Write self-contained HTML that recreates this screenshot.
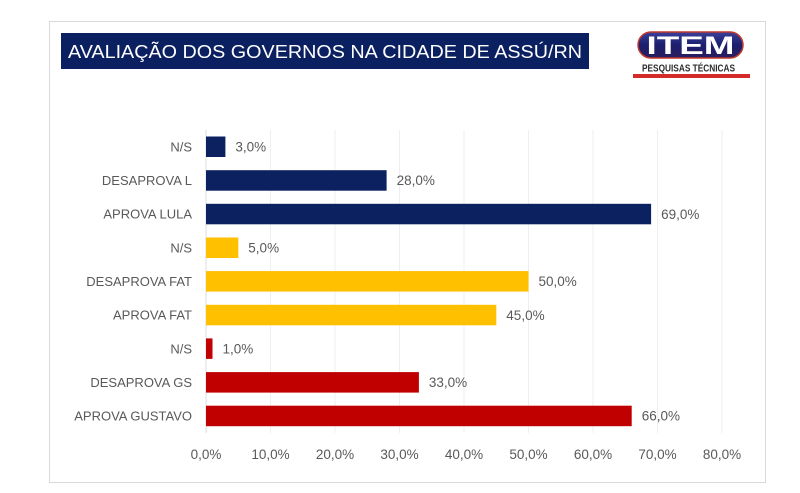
<!DOCTYPE html>
<html>
<head>
<meta charset="utf-8">
<style>
html,body{margin:0;padding:0;background:#fff;}
svg{display:block;}
text{font-family:"Liberation Sans",sans-serif;}
</style>
</head>
<body>
<svg width="800" height="493" viewBox="0 0 800 493" xmlns="http://www.w3.org/2000/svg">
  <defs>
    <linearGradient id="lg" x1="0" y1="0" x2="0" y2="1">
      <stop offset="0" stop-color="#3a3f9a"/>
      <stop offset="0.5" stop-color="#1c1f6e"/>
      <stop offset="1" stop-color="#2a1d5e"/>
    </linearGradient>
  </defs>
  <rect x="0" y="0" width="800" height="493" fill="#fff"/>
  <!-- card -->
  <rect x="49.5" y="21.5" width="716" height="461" fill="#fff" stroke="#d9d9d9" stroke-width="1"/>

  <!-- title -->
  <rect x="61" y="33" width="528" height="36" fill="#0b2060"/>
  <text x="68" y="58" font-size="18" fill="#fff" textLength="514" lengthAdjust="spacingAndGlyphs">AVALIAÇÃO DOS GOVERNOS NA CIDADE DE ASSÚ/RN</text>

  <!-- logo -->
  <rect x="638" y="32" width="105" height="26" rx="13" ry="13" fill="url(#lg)" stroke="#c0392b" stroke-width="1.5"/>
  <text x="690.5" y="54" font-size="25" font-weight="bold" fill="#fff" text-anchor="middle" textLength="88" lengthAdjust="spacingAndGlyphs">ITEM</text>
  <text x="688.5" y="71.5" font-size="10" font-weight="bold" fill="#2b2b2b" text-anchor="middle" textLength="93" lengthAdjust="spacingAndGlyphs">PESQUISAS TÉCNICAS</text>
  <rect x="633" y="74" width="117" height="4" fill="#d42a2a"/>

  <!-- gridlines -->
  <g stroke="#efefef" stroke-width="1">
    <line x1="270.5" y1="130" x2="270.5" y2="433"/>
    <line x1="335" y1="130" x2="335" y2="433"/>
    <line x1="399.5" y1="130" x2="399.5" y2="433"/>
    <line x1="464" y1="130" x2="464" y2="433"/>
    <line x1="528.5" y1="130" x2="528.5" y2="433"/>
    <line x1="593" y1="130" x2="593" y2="433"/>
    <line x1="657.5" y1="130" x2="657.5" y2="433"/>
    <line x1="722" y1="130" x2="722" y2="433"/>
  </g>
  <line x1="206" y1="130" x2="206" y2="433" stroke="#dddddd" stroke-width="1"/>

  <!-- bars -->
  <g>
    <rect x="206" y="136.5" width="19.4" height="20.5" fill="#0c2160"/>
    <rect x="206" y="170.2" width="180.6" height="20.5" fill="#0c2160"/>
    <rect x="206" y="203.8" width="445.1" height="20.5" fill="#0c2160"/>
    <rect x="206" y="237.5" width="32.3" height="20.5" fill="#ffc000"/>
    <rect x="206" y="271.1" width="322.5" height="20.5" fill="#ffc000"/>
    <rect x="206" y="304.8" width="290.3" height="20.5" fill="#ffc000"/>
    <rect x="206" y="338.4" width="6.5" height="20.5" fill="#c00000"/>
    <rect x="206" y="372.1" width="212.9" height="20.5" fill="#c00000"/>
    <rect x="206" y="405.7" width="425.7" height="20.5" fill="#c00000"/>
  </g>

  <!-- category labels -->
  <g font-size="13" fill="#595959" text-anchor="end">
    <text x="192" y="151.4">N/S</text>
    <text x="192" y="185.1">DESAPROVA L</text>
    <text x="192" y="218.7">APROVA LULA</text>
    <text x="192" y="252.4">N/S</text>
    <text x="192" y="286">DESAPROVA FAT</text>
    <text x="192" y="319.7">APROVA FAT</text>
    <text x="192" y="353.3">N/S</text>
    <text x="192" y="387">DESAPROVA GS</text>
    <text x="192" y="420.6">APROVA GUSTAVO</text>
  </g>

  <!-- value labels -->
  <g font-size="13.5" fill="#595959">
    <text x="235.4" y="151.5">3,0%</text>
    <text x="396.6" y="185.2">28,0%</text>
    <text x="661.1" y="218.8">69,0%</text>
    <text x="248.3" y="252.5">5,0%</text>
    <text x="538.5" y="286.1">50,0%</text>
    <text x="506.3" y="319.8">45,0%</text>
    <text x="222.5" y="353.4">1,0%</text>
    <text x="428.9" y="387.1">33,0%</text>
    <text x="641.7" y="420.7">66,0%</text>
  </g>

  <!-- axis tick labels -->
  <g font-size="13.5" fill="#595959" text-anchor="middle">
    <text x="206" y="459">0,0%</text>
    <text x="270.5" y="459">10,0%</text>
    <text x="335" y="459">20,0%</text>
    <text x="399.5" y="459">30,0%</text>
    <text x="464" y="459">40,0%</text>
    <text x="528.5" y="459">50,0%</text>
    <text x="593" y="459">60,0%</text>
    <text x="657.5" y="459">70,0%</text>
    <text x="722" y="459">80,0%</text>
  </g>
</svg>
</body>
</html>
